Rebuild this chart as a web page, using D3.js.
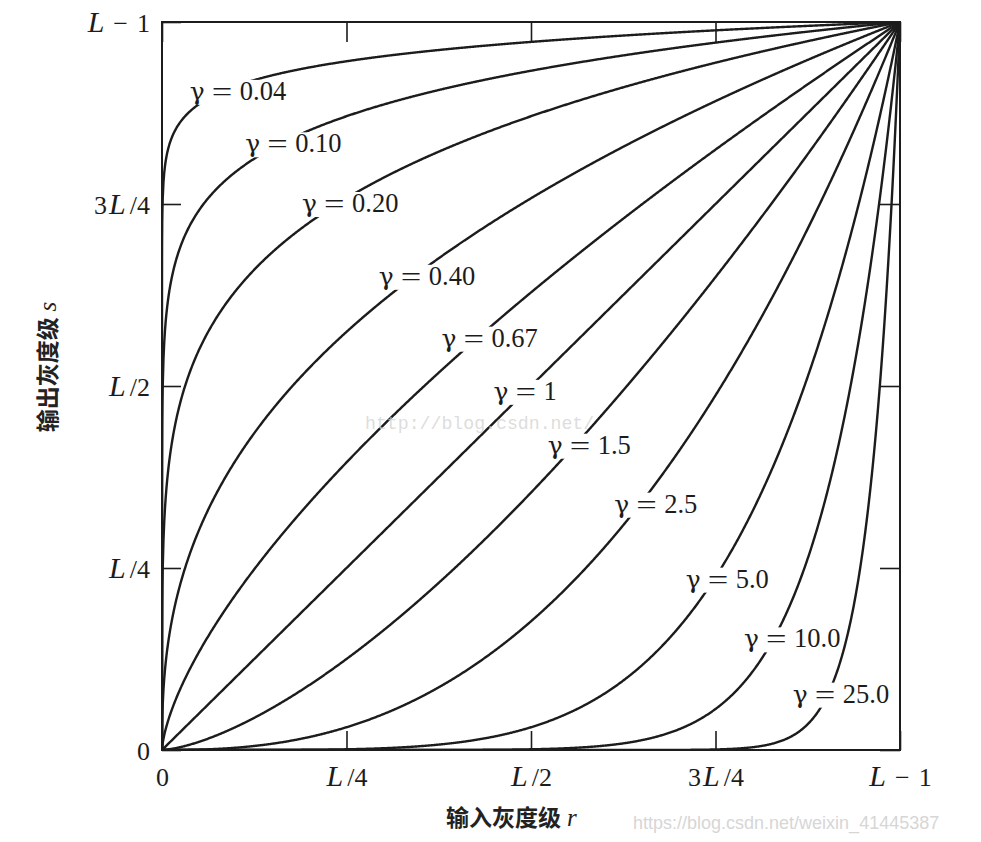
<!DOCTYPE html>
<html>
<head>
<meta charset="utf-8">
<script src="https://cdn.jsdelivr.net/npm/d3@7"></script>
<style>
  html, body { margin: 0; padding: 0; background: #fff; }
  svg { display: block; }
</style>
</head>
<body>
<svg id="chart" width="981" height="842"></svg>
<script>
// ---- data ----
const gammas      = [0.04, 0.10, 0.20, 0.40, 0.67, 1, 1.5, 2.5, 5.0, 10.0, 25.0];
const gammaLabels = ["0.04", "0.10", "0.20", "0.40", "0.67", "1", "1.5", "2.5", "5.0", "10.0", "25.0"];
// label anchors (text baseline centre) in data units (r, s)
const labelR = [0.103, 0.178, 0.255, 0.359, 0.444, 0.492, 0.579, 0.669, 0.766, 0.854, 0.920];
const labelS = [0.893, 0.821, 0.739, 0.639, 0.554, 0.481, 0.407, 0.326, 0.223, 0.141, 0.065];
const tickValues = [0, 0.25, 0.5, 0.75, 1];
const tickLabels = ["0", "L/4", "L/2", "3L/4", "L − 1"];
const xTitle = "输入灰度级";
const xTitleVar = "r";
const yTitle = "输出灰度级";
const yTitleVar = "s";

// ---- layout ----
const svg = d3.select("#chart");
const pLeft = 162, pRight = 900, pTop = 22, pBottom = 750;
const x = d3.scaleLinear().domain([0, 1]).range([pLeft, pRight]);
const y = d3.scaleLinear().domain([0, 1]).range([pBottom, pTop]);
const serif = "'Liberation Serif', 'Times New Roman', serif";
const cjk = "'Noto Sans CJK SC', sans-serif";
const ink = "#1c1c1c";

// bottom watermark
svg.append("text")
  .attr("x", 633).attr("y", 829)
  .attr("font-family", "'Liberation Sans', Arial, sans-serif")
  .attr("font-size", 18).attr("fill", "#d6d6d6")
  .text("https://blog.csdn.net/weixin_41445387");

// clip
svg.append("clipPath").attr("id", "plotclip")
  .append("rect").attr("x", pLeft).attr("y", pTop)
  .attr("width", pRight - pLeft).attr("height", pBottom - pTop);

// curves
const rSamples = [0, 1e-6, 1e-5, 5e-5, 1e-4, 3e-4, 6e-4]
  .concat(d3.range(1, 1001).map(i => i / 1000));
const line = d3.line().x(d => x(d[0])).y(d => y(d[1]));

const curves = svg.append("g").attr("clip-path", "url(#plotclip)");
gammas.forEach(g => {
  const pts = rSamples.map(r => [r, Math.pow(r, g)]);
  curves.append("path")
    .attr("d", line(pts))
    .attr("fill", "none")
    .attr("stroke", ink)
    .attr("stroke-width", 2.4)
    .attr("stroke-linejoin", "round");
});

// axes with inward ticks
function styleAxis(gAxis) {
  gAxis.select(".domain").remove();
  gAxis.selectAll(".tick line").attr("stroke", ink).attr("stroke-width", 1.6);
}
function richLabel(sel) {
  sel.each(function(d) {
    const t = d3.select(this);
    const lbl = tickLabels[tickValues.indexOf(d)];
    t.text(null);
    t.attr("font-family", serif).attr("fill", ink).attr("font-size", 26);
    const parts = lbl.split(/(L|−)/).map(p => p.trim()).filter(p => p !== "");
    parts.forEach((p, k) => {
      const ts = t.append("tspan").text(p);
      if (p === "L") {
        ts.attr("font-style", "italic").attr("font-size", 30);
        if (k > 0) ts.attr("dx", 2);
      } else if (p.startsWith("/")) {
        ts.attr("dx", 4);
      } else if (k > 0) {
        ts.attr("dx", 9);
      }
    });
  });
}

const axL = svg.append("g").attr("transform", `translate(${pLeft},0)`)
  .call(d3.axisLeft(y).tickValues(tickValues).tickSize(-19).tickPadding(12));
styleAxis(axL);
axL.selectAll(".tick text").call(richLabel).attr("dy", "0.36em");

const axB = svg.append("g").attr("transform", `translate(0,${pBottom})`)
  .call(d3.axisBottom(x).tickValues(tickValues).tickSize(-19).tickPadding(13));
styleAxis(axB);
axB.selectAll(".tick text").call(richLabel).attr("dy", "0.9em");

const axR = svg.append("g").attr("transform", `translate(${pRight},0)`)
  .call(d3.axisRight(y).tickValues(tickValues).tickSize(-20).tickFormat(""));
styleAxis(axR);

const axT = svg.append("g").attr("transform", `translate(0,${pTop})`)
  .call(d3.axisTop(x).tickValues(tickValues).tickSize(-20).tickFormat(""));
styleAxis(axT);

// frame
svg.append("rect")
  .attr("x", pLeft).attr("y", pTop)
  .attr("width", pRight - pLeft).attr("height", pBottom - pTop)
  .attr("fill", "none").attr("stroke", ink).attr("stroke-width", 2);

// gamma labels with white knock-out
const labG = svg.append("g");
gammas.forEach((g, i) => {
  const grp = labG.append("g");
  const inner = grp.append("g");
  inner.append("text").attr("x", 0).attr("y", 0)
    .attr("font-family", "'DejaVu Serif', serif").attr("font-size", 25).attr("fill", ink)
    .text("γ");
  inner.append("text")
    .attr("transform", "translate(22,1) scale(1.3,1)")
    .attr("font-family", serif).attr("font-size", 28).attr("fill", ink)
    .text("=");
  inner.append("text").attr("x", 50).attr("y", 0)
    .attr("font-family", serif).attr("font-size", 26.5).attr("fill", ink)
    .text(gammaLabels[i]);
  const bb = inner.node().getBBox();
  const cx = x(labelR[i]), cy = y(labelS[i]);
  const ox = cx - (bb.x + bb.width / 2);
  inner.attr("transform", `translate(${ox},${cy})`);
  grp.insert("rect", "g")
    .attr("x", ox + bb.x - 1).attr("y", cy - 20)
    .attr("width", bb.width + 2).attr("height", 25)
    .attr("fill", "#fff");
});

// axis titles
const xt = svg.append("text")
  .attr("x", 446).attr("y", 826)
  .attr("font-family", cjk).attr("font-weight", 700)
  .attr("font-size", 23).attr("fill", "#222");
xt.append("tspan").text(xTitle);
xt.append("tspan").attr("dx", 6).attr("font-family", serif).attr("font-style", "italic")
  .attr("font-weight", 400).attr("font-size", 25).text(xTitleVar);

const yt = svg.append("text")
  .attr("transform", "translate(56,367) rotate(-90)")
  .attr("text-anchor", "middle")
  .attr("font-family", cjk).attr("font-weight", 700)
  .attr("font-size", 23).attr("fill", "#222");
yt.append("tspan").text(yTitle);
yt.append("tspan").attr("dx", 6).attr("font-family", serif).attr("font-style", "italic")
  .attr("font-weight", 400).attr("font-size", 25).text(yTitleVar);

// faint middle watermark (drawn over the figure, as in the source)
svg.append("text")
  .attr("x", 365).attr("y", 429)
  .attr("font-family", "'Liberation Mono', 'DejaVu Sans Mono', monospace")
  .attr("font-size", 18.2).attr("fill", "#d4d4d4").attr("fill-opacity", 0.8)
  .text("http://blog.csdn.net/");
</script>
</body>
</html>
